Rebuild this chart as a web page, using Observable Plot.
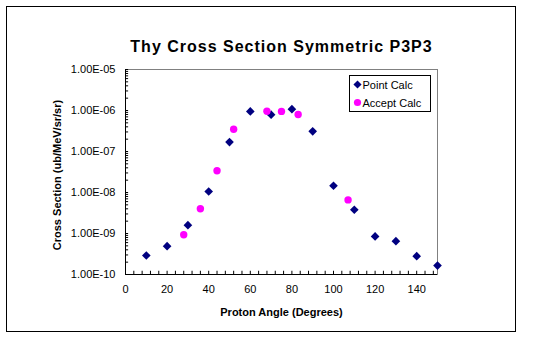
<!DOCTYPE html>
<html>
<head>
<meta charset="utf-8">
<script src="https://cdn.jsdelivr.net/npm/d3@7"></script>
<script src="https://cdn.jsdelivr.net/npm/@observablehq/plot@0.6"></script>
<style>
  html, body { margin: 0; padding: 0; background: #fff; }
  svg { font-family: "Liberation Sans", Arial, sans-serif; }
</style>
</head>
<body>
<div id="chart"></div>
<script>
const chartTitle = "Thy Cross Section Symmetric P3P3";
const xTitle = "Proton Angle (Degrees)";
const yTitle = "Cross Section (ub/MeV/sr/sr)";
const seriesNames = ["Point Calc", "Accept Calc"];

const pointX = [10, 20, 30, 40, 50, 60, 70, 80, 90, 100, 110, 120, 130, 140, 150];
const pointY = [2.9e-10, 4.9e-10, 1.6e-9, 1.06e-8, 1.7e-7, 9.5e-7, 7.9e-7, 1.08e-6, 3.1e-7, 1.46e-8, 3.8e-9, 8.5e-10, 6.5e-10, 2.8e-10, 1.65e-10];
const acceptX = [28, 36, 44, 52, 68, 75, 83, 107];
const acceptY = [9.3e-10, 4.0e-9, 3.4e-8, 3.5e-7, 9.6e-7, 9.5e-7, 8.0e-7, 6.6e-9];

const xTicks = [0, 20, 40, 60, 80, 100, 120, 140];
const xMinorTicks = d3.range(0, 151, 4);
const yTicks = [1e-10, 1e-9, 1e-8, 1e-7, 1e-6, 1e-5];
const yMinorTicks = yTicks.slice(0, -1).flatMap(d => [1,2,3,4,5,6,7,8,9].map(k => k * d)).concat([1e-5]);

const points = pointX.map((x, i) => ({x, y: pointY[i]}));
const accepts = acceptX.map((x, i) => ({x, y: acceptY[i]}));

const fmt = d => {
  const e = Math.round(Math.log10(d));
  const s = e < 0 ? "-" : "+";
  return "1.00E" + s + String(Math.abs(e)).padStart(2, "0");
};

const svg = Plot.plot({
  width: 533,
  height: 338,
  marginLeft: 125,
  marginRight: 96,
  marginTop: 69,
  marginBottom: 64,
  style: {fontFamily: "'Liberation Sans', Arial, sans-serif", fontSize: "11px", color: "#000", background: "#fff"},
  x: {domain: [0, 150]},
  y: {type: "log", domain: [1e-10, 1e-5]},
  marks: [
    Plot.frame({stroke: "#808080"}),
    Plot.ruleX(xMinorTicks, {x: d => d, y1: 1e-10, y2: 1.2e-10, stroke: "#000"}),
    Plot.ruleY(yMinorTicks, {y: d => d, x1: 0, x2: 1.5, stroke: "#000"}),
    Plot.ruleX([0], {stroke: "#000"}),
    Plot.ruleY([1e-10], {stroke: "#000"}),
    Plot.axisX({ticks: xTicks, tickSize: 0, tickPadding: 11, label: null, fontSize: 11, fill: "#000"}),
    Plot.axisY({ticks: yTicks, tickSize: 0, tickPadding: 10, tickFormat: fmt, label: null, fontSize: 11, fill: "#000"}),
    Plot.dot(points, {x: "x", y: "y", symbol: "diamond2", r: 3.9, fill: "#000080", stroke: null}),
    Plot.dot(accepts, {x: "x", y: "y", symbol: "circle", r: 3.7, fill: "#ff00ff", stroke: null}),
    Plot.text([chartTitle], {frameAnchor: "top", dy: -29, fontSize: 16, fontWeight: "bold", fill: "#000"}),
    Plot.text([xTitle], {frameAnchor: "bottom", dy: 41, fontSize: 11, fontWeight: "bold", fill: "#000"}),
    Plot.text([yTitle], {frameAnchor: "left", textAnchor: "middle", dx: -68, dy: 3, rotate: -90, fontSize: 11, fontWeight: "bold", fill: "#000"})
  ]
});

const s = d3.select(svg);
s.selectAll("text").filter(function() { return this.textContent === chartTitle; }).style("letter-spacing", "1px");

// outer chart-area border
s.insert("rect", ":first-child")
  .attr("x", 6.5).attr("y", 6.5).attr("width", 509).attr("height", 325)
  .attr("fill", "#fff").attr("stroke", "#000").attr("stroke-width", 1);

// legend
const lg = s.append("g").attr("transform", "translate(349.5,75.5)");
lg.append("rect").attr("width", 81).attr("height", 36).attr("fill", "#fff").attr("stroke", "#000");
lg.append("path").attr("transform", "translate(8,9)").attr("d", d3.symbol(d3.symbolDiamond2, 42)()).attr("fill", "#000080");
lg.append("circle").attr("cx", 8).attr("cy", 27).attr("r", 3.6).attr("fill", "#ff00ff");
lg.selectAll("text.lt").data(seriesNames).join("text")
  .attr("x", 13).attr("y", (d, i) => 13 + i * 18)
  .attr("font-size", 11).attr("fill", "#000").attr("text-anchor", "start")
  .text(d => d);

document.getElementById("chart").appendChild(svg);
</script>
</body>
</html>
